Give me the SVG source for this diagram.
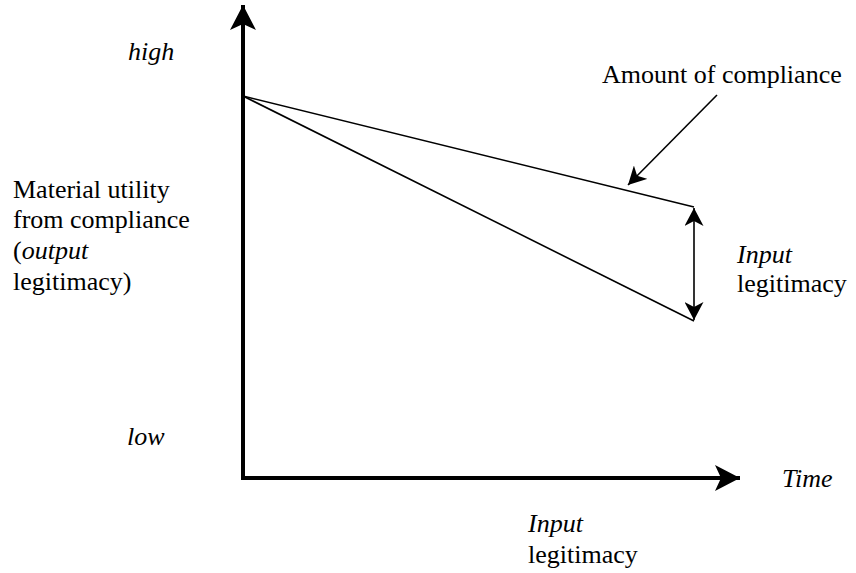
<svg xmlns="http://www.w3.org/2000/svg" width="856" height="573" viewBox="0 0 856 573" font-family="Liberation Serif, Times New Roman, serif" font-size="26">
<style>
.i{font-style:italic}
.axis{stroke:#000;stroke-width:4;fill:none}
.thin{stroke:#000;stroke-width:1.6;fill:none}
</style>
<defs>
<marker id="big" viewBox="0 0 25 26" refX="25" refY="13" markerWidth="25" markerHeight="26" markerUnits="userSpaceOnUse" orient="auto">
<path d="M0,0 L25,13 L0,26 L6,13 Z" fill="#000"/>
</marker>
<marker id="small" viewBox="0 0 18 19" refX="18" refY="9.5" markerWidth="18" markerHeight="19" markerUnits="userSpaceOnUse" orient="auto-start-reverse">
<path d="M0,0 L18,9.5 L0,19 L5,9.5 Z" fill="#000"/>
</marker>
</defs>
<g id="connectors">
<path id="y-axis" class="axis" d="M243,480 L243,5" marker-end="url(#big)"/>
<path id="x-axis" class="axis" d="M241,478 L740,478" marker-end="url(#big)"/>
<path id="upper-line" class="thin" d="M243,96 L694,207"/>
<path id="lower-line" class="thin" d="M243,96 L694,321"/>
<path id="gap-arrow" class="thin" d="M694,208 L694,320" marker-start="url(#small)" marker-end="url(#small)"/>
<path id="compliance-arrow" class="thin" d="M717,95 L628,185" marker-end="url(#small)"/>
</g>
<g id="label-high"><text class="i" x="128" y="60">high</text></g>
<g id="label-low"><text class="i" x="127" y="445">low</text></g>
<g id="label-yaxis">
<text x="13" y="198">Material utility</text>
<text x="13" y="228">from compliance</text>
<text x="13" y="259">(<tspan class="i">output</tspan></text>
<text x="13" y="290">legitimacy)</text>
</g>
<g id="label-compliance"><text x="602" y="83">Amount of compliance</text></g>
<g id="label-input-right">
<text class="i" x="737" y="263">Input</text>
<text x="737" y="292">legitimacy</text>
</g>
<g id="label-time"><text class="i" x="782" y="487">Time</text></g>
<g id="label-input-bottom">
<text class="i" x="528" y="532">Input</text>
<text x="528" y="563">legitimacy</text>
</g>
</svg>
